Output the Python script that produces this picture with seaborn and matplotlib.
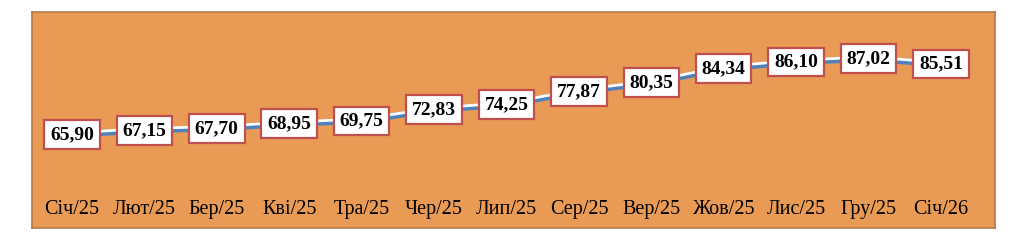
import matplotlib
matplotlib.use("Agg")
import matplotlib.pyplot as plt
import matplotlib.transforms as mtransforms
import seaborn as sns
import pandas as pd

months = ["Січ/25", "Лют/25", "Бер/25", "Кві/25", "Тра/25", "Чер/25", "Лип/25",
          "Сер/25", "Вер/25", "Жов/25", "Лис/25", "Гру/25", "Січ/26"]
values = [65.90, 67.15, 67.70, 68.95, 69.75, 72.83, 74.25,
          77.87, 80.35, 84.34, 86.10, 87.02, 85.51]

df = pd.DataFrame({"pos": list(range(len(months))), "month": months, "value": values})

sns.set_theme(style="white")
plt.rcParams["font.family"] = ["Liberation Serif", "DejaVu Serif"]

fig = plt.figure(figsize=(10.24, 2.47), dpi=100)
fig.patch.set_facecolor("white")
ax = fig.add_axes([32 / 1024, 19 / 247, 963 / 1024, 216 / 247])
ax.set_facecolor("#E99A55")
for s in ax.spines.values():
    s.set_visible(True)
    s.set_color("#B27A48")
    s.set_linewidth(1.2)

sns.lineplot(data=df, x="pos", y="value", ax=ax, color="#4F81BD", linewidth=4.4,
             solid_capstyle="butt", legend=False)
off = mtransforms.offset_copy(ax.transData, fig=fig, x=0, y=1.3, units="points")
ax.plot(df["pos"], df["value"], color="white", linewidth=2.0, transform=off,
        solid_capstyle="butt")

for x, v in zip(df["pos"], df["value"]):
    ax.text(x, v, f"{v:.2f}".replace(".", ","), ha="center", va="center",
            fontsize=14, fontweight="bold", color="black",
            bbox=dict(boxstyle="square,pad=0.3", facecolor="white",
                      edgecolor="#C0504D", linewidth=1.6))

ax.set_xlim(-0.552, 12.746)
ax.set_ylim(40, 100)
ax.set_xticks(df["pos"])
ax.set_xticklabels(months, fontsize=14.5, color="black")
ax.tick_params(axis="x", length=0, pad=-20)
ax.set_yticks([])
ax.set_xlabel("")
ax.set_ylabel("")

fig.savefig("out.png", dpi=100, facecolor="white")
